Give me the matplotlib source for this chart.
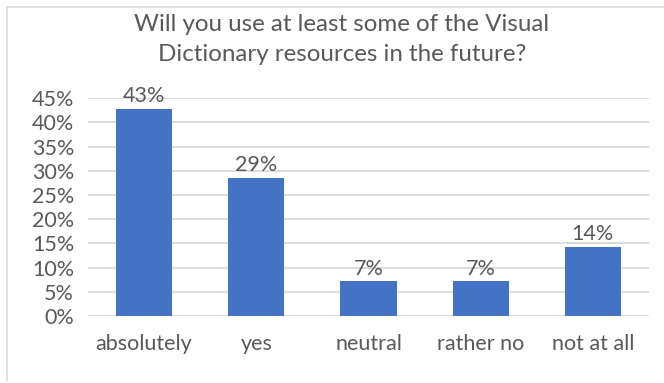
import matplotlib
matplotlib.use("Agg")
import matplotlib.pyplot as plt
from matplotlib.lines import Line2D
from matplotlib.ticker import FuncFormatter

# Survey answers (share of respondents, %)
categories = ["absolutely", "yes", "neutral", "rather no", "not at all"]
shares = [42.86, 28.57, 7.14, 7.14, 14.29]
y_ticks = [0, 5, 10, 15, 20, 25, 30, 35, 40, 45]
title_lines = ["Will you use at least some of the Visual",
               "Dictionary resources in the future?"]

BAR = "#4472C4"
TEXT = "#595959"
GRID = "#D9D9D9"
FONT = ["Lato", "DejaVu Sans"]

W, H = 664, 383
fig = plt.figure(figsize=(W / 100, H / 100), dpi=100)
fig.patch.set_facecolor("white")

# plot area in pixel coordinates
left, right, top, bottom = 88, 649, 98.3, 316
ax = fig.add_axes([left / W, 1 - bottom / H, (right - left) / W, (bottom - top) / H])

x = range(len(categories))
bars = ax.bar(x, shares, width=0.5, color=BAR, zorder=3)

ax.set_xlim(-0.5, len(categories) - 0.5)
ax.set_ylim(0, 45)
ax.set_yticks(y_ticks)
ax.yaxis.set_major_formatter(FuncFormatter(lambda v, _: f"{v:.0f}%"))
ax.set_xticks(list(x))
ax.set_xticklabels(categories)

ax.grid(axis="y", color=GRID, linewidth=1.3, zorder=0)
ax.set_axisbelow(True)
for s in ax.spines.values():
    s.set_visible(False)

ax.tick_params(axis="y", length=0, pad=10, labelsize=15.5, labelcolor=TEXT)
ax.tick_params(axis="x", length=0, pad=13, labelsize=15.5, labelcolor=TEXT)
for lbl in ax.get_xticklabels() + ax.get_yticklabels():
    lbl.set_family(FONT)

# value labels above the bars
for rect, v in zip(bars, shares):
    ax.annotate(f"{v:.0f}%", (rect.get_x() + rect.get_width() / 2, v),
                xytext=(0, 5), textcoords="offset points",
                ha="center", va="baseline", fontsize=15.5, color=TEXT, family=FONT)

# title, two centred lines
for line, base in zip(title_lines, [30.7, 60.7]):
    fig.text(342 / W, 1 - base / H, line, ha="center", va="baseline",
             fontsize=17.4, color=TEXT, family=FONT)

# chart frame (left and top edges)
fig.add_artist(Line2D([7 / W, 7 / W, 1], [1 - 380 / H, 1 - 6.5 / H, 1 - 6.5 / H],
                      transform=fig.transFigure, color=GRID, linewidth=1.2))

fig.savefig("out.png", dpi=100, facecolor="white")
